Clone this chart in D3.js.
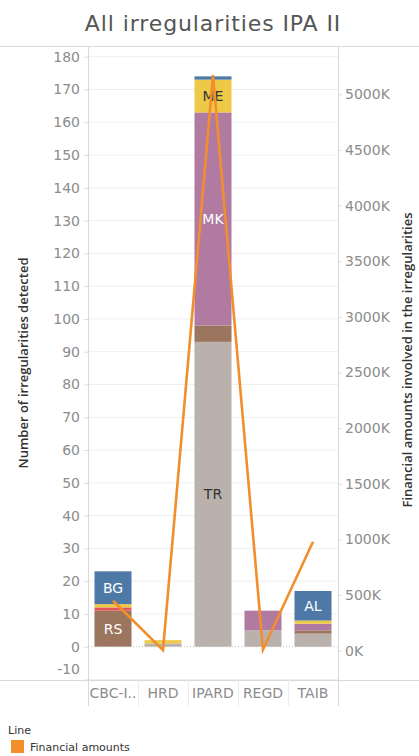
<!DOCTYPE html>
<html><head><meta charset="utf-8">
<script src="https://cdn.jsdelivr.net/npm/d3@7"></script>
<style>
html,body{margin:0;padding:0;background:#fff;}
svg{display:block;font-family:"DejaVu Sans",sans-serif;}
</style></head>
<body>
<svg id="c" width="419" height="756"></svg>
<script>
const categories = ["CBC-I..", "HRD", "IPARD", "REGD", "TAIB"];
const seriesKeys = ["TR", "RS", "MK", "XK", "ME", "BG", "AL"];
const seriesColors = ["#bab0ac", "#9c755f", "#b07aa1", "#e15759", "#edc948", "#4e79a7", "#4e79a7"];
// counts per category, per series (same order as seriesKeys)
const TR = [0, 1, 93, 5, 4];
const RS = [11, 0, 5, 0, 1];
const MK = [0, 0, 65, 6, 2];
const XK = [1, 0, 0, 0, 0];
const ME = [1, 1, 10, 0, 1];
const BG = [10, 0, 1, 0, 0];
const AL = [0, 0, 0, 0, 9];
const financialAmounts = [449000, 5000, 5172000, 10000, 979000];
const leftTicks = [-10, 0, 10, 20, 30, 40, 50, 60, 70, 80, 90, 100, 110, 120, 130, 140, 150, 160, 170, 180];
const rightTicks = [0, 500000, 1000000, 1500000, 2000000, 2500000, 3000000, 3500000, 4000000, 4500000, 5000000];
const labeledSegments = ["TR", "RS", "MK", "ME", "BG", "AL"];
const darkLabels = ["TR", "ME"];

const seriesValues = {TR, RS, MK, XK, ME, BG, AL};
const table = categories.map((c, i) => {
  const row = {cat: c};
  seriesKeys.forEach(k => row[k] = seriesValues[k][i]);
  return row;
});

const svg = d3.select("#c");
const W = 419;
const plotL = 88, plotR = 338, plotT = 46, plotB = 680;

const x = d3.scaleBand().domain(categories).range([plotL, plotR]).paddingInner(0.26).paddingOuter(0.13);
const y = d3.scaleLinear().domain([-10, 180]).range([679.5, 56.7]);
const y2 = d3.scaleLinear().domain([0, 5000000]).range([650.7, 94.3]);
const color = d3.scaleOrdinal().domain(seriesKeys).range(seriesColors);

// Title
svg.append("text").attr("x", 213).attr("y", 31).attr("text-anchor", "middle")
  .attr("font-size", 22).attr("letter-spacing", 0.9).attr("fill", "#555")
  .text("All irregularities IPA II");

// gridlines
svg.append("g").selectAll("line").data(leftTicks.filter(t => t !== 0)).join("line")
  .attr("x1", plotL).attr("x2", plotR).attr("y1", d => y(d)).attr("y2", d => y(d))
  .attr("stroke", "#efefef").attr("stroke-width", 1);

// frame lines
const frame = svg.append("g").attr("stroke", "#d9d9d9").attr("stroke-width", 1);
frame.append("line").attr("x1", 0).attr("x2", W).attr("y1", plotT + 0.5).attr("y2", plotT + 0.5);
frame.append("line").attr("x1", 0).attr("x2", W).attr("y1", plotB + 0.5).attr("y2", plotB + 0.5);
frame.append("line").attr("x1", plotL + 0.5).attr("x2", plotL + 0.5).attr("y1", plotT).attr("y2", 706);
frame.append("line").attr("x1", plotR + 0.5).attr("x2", plotR + 0.5).attr("y1", plotT).attr("y2", 706);
// category separators
frame.selectAll("line.sep").data(categories.slice(1)).join("line").attr("class", "sep")
  .attr("x1", d => Math.round(x(d) - x.step() * x.paddingInner() / 2) + 0.5)
  .attr("x2", d => Math.round(x(d) - x.step() * x.paddingInner() / 2) + 0.5)
  .attr("y1", plotB).attr("y2", 706).attr("stroke", "#ececec");

// bars
const stack = d3.stack().keys(seriesKeys)(table);
const barG = svg.append("g");
stack.forEach(layer => {
  barG.append("g").attr("fill", color(layer.key)).selectAll("rect").data(layer).join("rect")
    .attr("x", d => x(d.data.cat)).attr("width", x.bandwidth())
    .attr("y", d => y(d[1])).attr("height", d => Math.max(0, y(d[0]) - y(d[1])));
});

// zero line
svg.append("line").attr("x1", plotL).attr("x2", plotR).attr("y1", y(0)).attr("y2", y(0))
  .attr("stroke", "#bdbdbd").attr("stroke-dasharray", "1,2").attr("stroke-width", 1);

// segment labels
const lblG = svg.append("g").attr("text-anchor", "middle").attr("font-size", 14);
stack.forEach(layer => {
  if (!labeledSegments.includes(layer.key)) return;
  layer.forEach(d => {
    if (d[1] - d[0] < 8) return;
    lblG.append("text").attr("x", x(d.data.cat) + x.bandwidth() / 2)
      .attr("y", y((d[0] + d[1]) / 2)).attr("dy", "0.36em")
      .attr("fill", darkLabels.includes(layer.key) ? "#333" : "#fff")
      .text(layer.key);
  });
});

// line
svg.append("path").datum(financialAmounts)
  .attr("fill", "none").attr("stroke", "#f28e2b").attr("stroke-width", 2.6)
  .attr("stroke-linejoin", "miter")
  .attr("d", d3.line().x((d, i) => x(categories[i]) + x.bandwidth() / 2).y(d => y2(d)));

// left axis
const la = svg.append("g").attr("transform", `translate(${plotL},0)`)
  .call(d3.axisLeft(y).tickValues(leftTicks).tickSize(4).tickPadding(4).tickFormat(d => String(d)));
la.select(".domain").remove();
la.selectAll("line").attr("stroke", "#dedede");
la.selectAll("text").attr("fill", "#8c8c8c").attr("font-size", 14).attr("font-family", "DejaVu Sans");
la.selectAll(".tick").filter(d => d === -10).select("text").attr("y", -10);

// right axis
const ra = svg.append("g").attr("transform", `translate(${plotR},0)`)
  .call(d3.axisRight(y2).tickValues(rightTicks).tickSize(4).tickPadding(3)
    .tickFormat(d => (d / 1000) + "K"));
ra.select(".domain").remove();
ra.selectAll("line").attr("stroke", "#dedede");
ra.selectAll("text").attr("fill", "#8c8c8c").attr("font-size", 14).attr("font-family", "DejaVu Sans");

// x labels
svg.append("g").selectAll("text").data(categories).join("text")
  .attr("x", d => x(d) + x.bandwidth() / 2).attr("y", 698).attr("text-anchor", "middle")
  .attr("font-size", 14).attr("fill", "#8c8c8c").text(d => d);

// axis titles
const midY = (plotT + plotB) / 2;
svg.append("text").attr("transform", `translate(28,${midY}) rotate(-90)`).attr("text-anchor", "middle")
  .attr("font-size", 13).attr("font-weight", 600).attr("fill", "#333").attr("font-family", "Open Sans")
  .text("Number of irregularities detected");
svg.append("text").attr("transform", `translate(412,${midY - 3}) rotate(-90)`).attr("text-anchor", "middle")
  .attr("font-size", 13).attr("font-weight", 600).attr("fill", "#333").attr("font-family", "Open Sans")
  .text("Financial amounts involved in the irregularities");

// legend
svg.append("text").attr("x", 8).attr("y", 734).attr("font-size", 11).attr("fill", "#333")
  .text("Line");
svg.append("rect").attr("x", 11).attr("y", 740).attr("width", 13).attr("height", 13).attr("fill", "#f28e2b");
svg.append("text").attr("x", 30).attr("y", 751).attr("font-size", 11).attr("fill", "#333")
  .text("Financial amounts");
</script>
</body></html>
